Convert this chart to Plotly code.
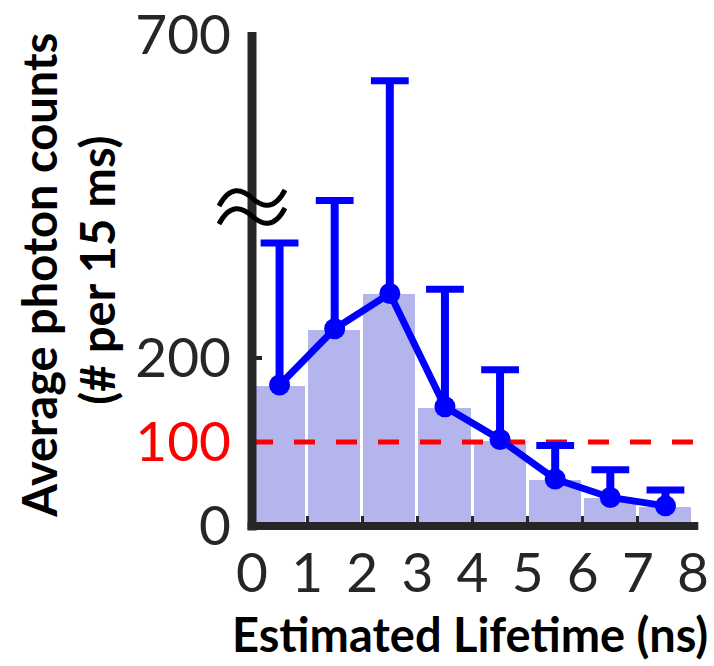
import plotly.graph_objects as go

# ---- data -------------------------------------------------------------
bin_centers = [0.5, 1.5, 2.5, 3.5, 4.5, 5.5, 6.5, 7.5]          # lifetime bins (ns)
mean_counts = [168, 235, 277, 142, 103, 56, 34, 24]             # average photon counts
upper_counts = [337, 392, 615, 282, 186, 96, 67, 43]            # top of error bars
threshold = 100                                                 # red reference level
x_ticks = [0, 1, 2, 3, 4, 5, 6, 7, 8]
y_low_ticks = [0, 100, 200]
y_high_ticks = [700]
y_break = 380                                                   # axis break value
y_max = 700

# ---- style ------------------------------------------------------------
AX = "#262626"
BLUE = "#0000FF"
BAR = "#B5B5EE"
FONT = "Lato"

W, H = 714, 666
L, R, T, B = 251.5, 21, 35, 140
plot_h = H - T - B
plot_w = W - L - R
d_low = (526 - 207) / plot_h     # fraction of height used by the lower segment

# error-bar stems as separated segments
stem_x, stem_y = [], []
for xc, m, u in zip(bin_centers, mean_counts, upper_counts):
    stem_x += [xc, xc, None]
    stem_y += [m, u, None]

fig = go.Figure()

fig.add_trace(go.Bar(
    x=bin_centers, y=mean_counts, width=1,
    marker=dict(color=BAR, line=dict(color="white", width=3)),
    xaxis="x", yaxis="y", showlegend=False,
))

fig.add_trace(go.Scatter(
    x=[x_ticks[0], x_ticks[-1]], y=[threshold, threshold], mode="lines",
    line=dict(color="#FF0000", width=5, dash="21px,21px"),
    xaxis="x", yaxis="y", showlegend=False,
))

# error bars drawn in both y segments; each segment clips its own part
for ya in ("y", "y2"):
    fig.add_trace(go.Scatter(
        x=stem_x, y=stem_y, mode="lines",
        line=dict(color=BLUE, width=8),
        xaxis="x", yaxis=ya, showlegend=False,
    ))
    fig.add_trace(go.Scatter(
        x=bin_centers, y=upper_counts, mode="markers",
        marker=dict(symbol="line-ew", size=27, color=BLUE,
                    line=dict(color=BLUE, width=7)),
        xaxis="x", yaxis=ya, showlegend=False,
    ))

fig.add_trace(go.Scatter(
    x=bin_centers, y=mean_counts, mode="lines+markers",
    line=dict(color=BLUE, width=7),
    marker=dict(color=BLUE, size=21),
    xaxis="x", yaxis="y", showlegend=False,
))

tick_font = dict(family=FONT, size=55, color=AX)

low_text = [f"<span style='color:#FF0000'>{v}</span>" if v == threshold else str(v)
            for v in y_low_ticks]

fig.update_layout(
    width=W, height=H,
    margin=dict(l=L, r=R, t=T, b=B, pad=0, autoexpand=False),
    paper_bgcolor="white", plot_bgcolor="white",
    bargap=0,
    xaxis=dict(
        domain=[0, 1], range=[x_ticks[0], x_ticks[-1]], anchor="y",
        tickmode="array", tickvals=x_ticks, ticktext=[str(v) for v in x_ticks],
        ticks="inside", ticklen=10, tickwidth=3, tickcolor=AX,
        showline=False, showgrid=False, zeroline=False, automargin=False,
        tickfont=tick_font, ticklabelstandoff=10,
    ),
    yaxis=dict(
        domain=[0, d_low], range=[0, y_break], anchor="x",
        tickmode="array", tickvals=y_low_ticks, ticktext=low_text,
        ticks="inside", ticklen=10, tickwidth=4, tickcolor=AX,
        showline=False, showgrid=False, zeroline=False, automargin=False,
        tickfont=tick_font, layer="below traces", ticklabelstandoff=20,
    ),
    yaxis2=dict(
        domain=[d_low, 1], range=[y_break, y_max], anchor="x",
        tickmode="array", tickvals=y_high_ticks, ticktext=[str(v) for v in y_high_ticks],
        ticks="inside", ticklen=10, tickwidth=6, tickcolor=AX,
        showline=False, showgrid=False, zeroline=False, automargin=False,
        tickfont=tick_font, ticklabelstandoff=20,
    ),
)

# axis lines (centered on the plot edges)
fig.add_shape(type="line", xref="paper", yref="paper", x0=0, x1=0, y0=-0.009, y1=1.006,
              line=dict(color=AX, width=9), layer="above")
fig.add_shape(type="line", xref="paper", yref="paper", x0=-0.01, x1=1.012, y0=0, y1=0,
              line=dict(color=AX, width=8), layer="above")

# axis-break mark (two tildes) at the junction of the two segments
tilde = "M -33,{a} C -22,{b} -10,{c} 0,{m} S 22,{d} 33,{e}"
def wave(oy):
    return tilde.format(a=oy - 8, b=oy + 13, c=oy + 9, m=oy, d=oy - 13, e=oy + 8)
fig.add_shape(type="path", xref="paper", yref="paper",
              xsizemode="pixel", ysizemode="pixel", xanchor=0, yanchor=d_low,
              path=wave(9) + " " + wave(-9),
              line=dict(color="black", width=5), fillcolor="rgba(0,0,0,0)", layer="above")

title_font = dict(family=FONT, size=47, color="black", weight="bold")
fig.add_annotation(text="<b>Average photon counts</b>", xref="paper", yref="paper",
                   x=(38 - L) / plot_w, y=(526 - 275) / plot_h,
                   textangle=-90, showarrow=False, font=title_font,
                   xanchor="center", yanchor="middle")
fig.add_annotation(text="<b>(# per 15 ms)</b>", xref="paper", yref="paper",
                   x=(96 - L) / plot_w, y=(526 - 270) / plot_h,
                   textangle=-90, showarrow=False, font=title_font,
                   xanchor="center", yanchor="middle")
fig.add_annotation(text="<b>Estimated Lifetime (ns)</b>", xref="paper", yref="paper",
                   x=(470 - L) / plot_w, y=(526 - 634) / plot_h,
                   showarrow=False, font=title_font,
                   xanchor="center", yanchor="middle")

fig.write_html("out.html")
